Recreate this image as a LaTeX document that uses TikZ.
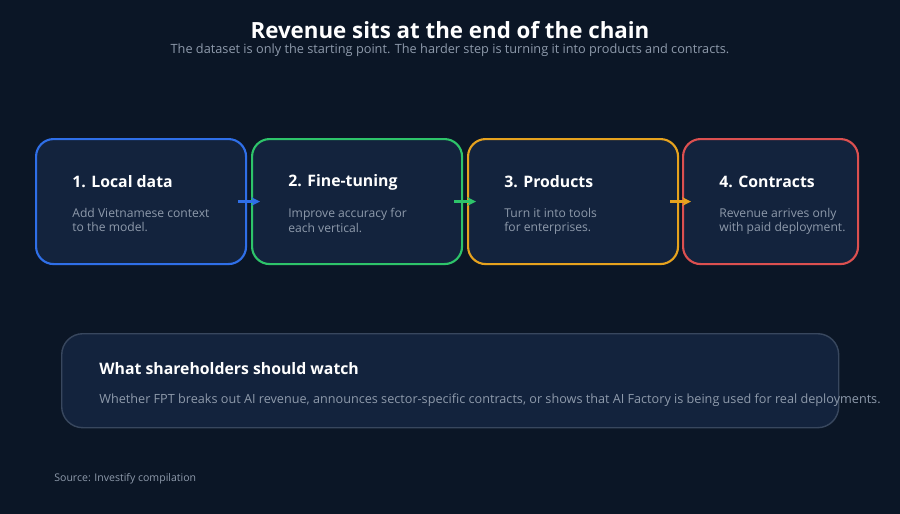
\documentclass[tikz,border=0pt]{standalone}
\usepackage{fontspec}
\setmainfont{Open Sans}
\usetikzlibrary{positioning,arrows.meta}
\definecolor{bg}{HTML}{0B1626}
\definecolor{card}{HTML}{13233D}
\definecolor{muted}{HTML}{8E9AAB}
\definecolor{cblue}{HTML}{2F6FE8}
\definecolor{cgreen}{HTML}{2EC46A}
\definecolor{corange}{HTML}{E6A21E}
\definecolor{cred}{HTML}{DC5050}
\tikzset{
  step/.style={draw=#1, fill=card, line width=1.2pt, rounded corners=10pt,
    minimum height=125*0.02cm, anchor=north west},
  steptitle/.style={anchor=west, inner sep=0pt, text=white, font=\bfseries\fontsize{9}{11}\selectfont},
  stepdesc/.style={anchor=north west, inner sep=0pt, text=muted, align=left, font=\fontsize{6.9}{8.2}\selectfont},
  link/.style={-{Stealth[length=5pt,width=5pt]}, line width=1.4pt}
}
\begin{document}
\begin{tikzpicture}[x=0.02cm,y=-0.02cm]
\fill[bg] (0,0) rectangle (900,514);
\useasboundingbox (0,0) rectangle (900,514);

% heading
\node[text=white, font=\bfseries\fontsize{12.7}{14}\selectfont] (title) at (450,30) {Revenue sits at the end of the chain};
\node[text=muted, font=\fontsize{7.25}{9}\selectfont] (sub) at (450,50) {The dataset is only the starting point. The harder step is turning it into products and contracts.};

% chain
\node[step=cblue, minimum width=210*0.02cm] (b1) at (35,138) {};
\node[step=cgreen, minimum width=210*0.02cm] (b2) at (251,138) {};
\node[step=corange, minimum width=210*0.02cm] (b3) at (467,138) {};
\node[step=cred, minimum width=175*0.02cm] (b4) at (682,138) {};

\foreach \b/\t/\da/\db in {b1/1. Local data/Add Vietnamese context/to the model.,
  b2/2. Fine-tuning/Improve accuracy for/each vertical.,
  b3/3. Products/Turn it into tools/for enterprises.,
  b4/4. Contracts/Revenue arrives only/with paid deployment.}{
  \node[steptitle] (\b t) at ([xshift=37*0.02cm,yshift=-44*0.02cm]\b.north west) {\t};
  \node[stepdesc] (\b d) at ([xshift=37*0.02cm,yshift=-70*0.02cm]\b.north west) {\da\\\db};
}

\draw[link, cblue] ([xshift=-9*0.02cm]b1.east) -- ([xshift=9*0.02cm]b2.west);
\draw[link, cgreen] ([xshift=-9*0.02cm]b2.east) -- ([xshift=9*0.02cm]b3.west);
\draw[link, corange] ([xshift=-9*0.02cm]b3.east) -- ([xshift=9*0.02cm]b4.west);

% watch box
\node[draw=muted!30!card, fill=card, line width=0.8pt, rounded corners=12pt,
  minimum width=777*0.02cm, minimum height=94*0.02cm, anchor=north west] (watch) at (61,333) {};
\node[steptitle] (watcht) at (99,369) {What shareholders should watch};
\node[stepdesc, anchor=west, font=\fontsize{7.2}{8.5}\selectfont] (watchd) at (99,400) {Whether FPT breaks out AI revenue, announces sector-specific contracts, or shows that AI Factory is being used for real deployments.};

\node[anchor=west, inner sep=0pt, text=muted, font=\fontsize{6}{7}\selectfont] (src) at (54,479) {Source: Investify compilation};
\end{tikzpicture}
\end{document}
